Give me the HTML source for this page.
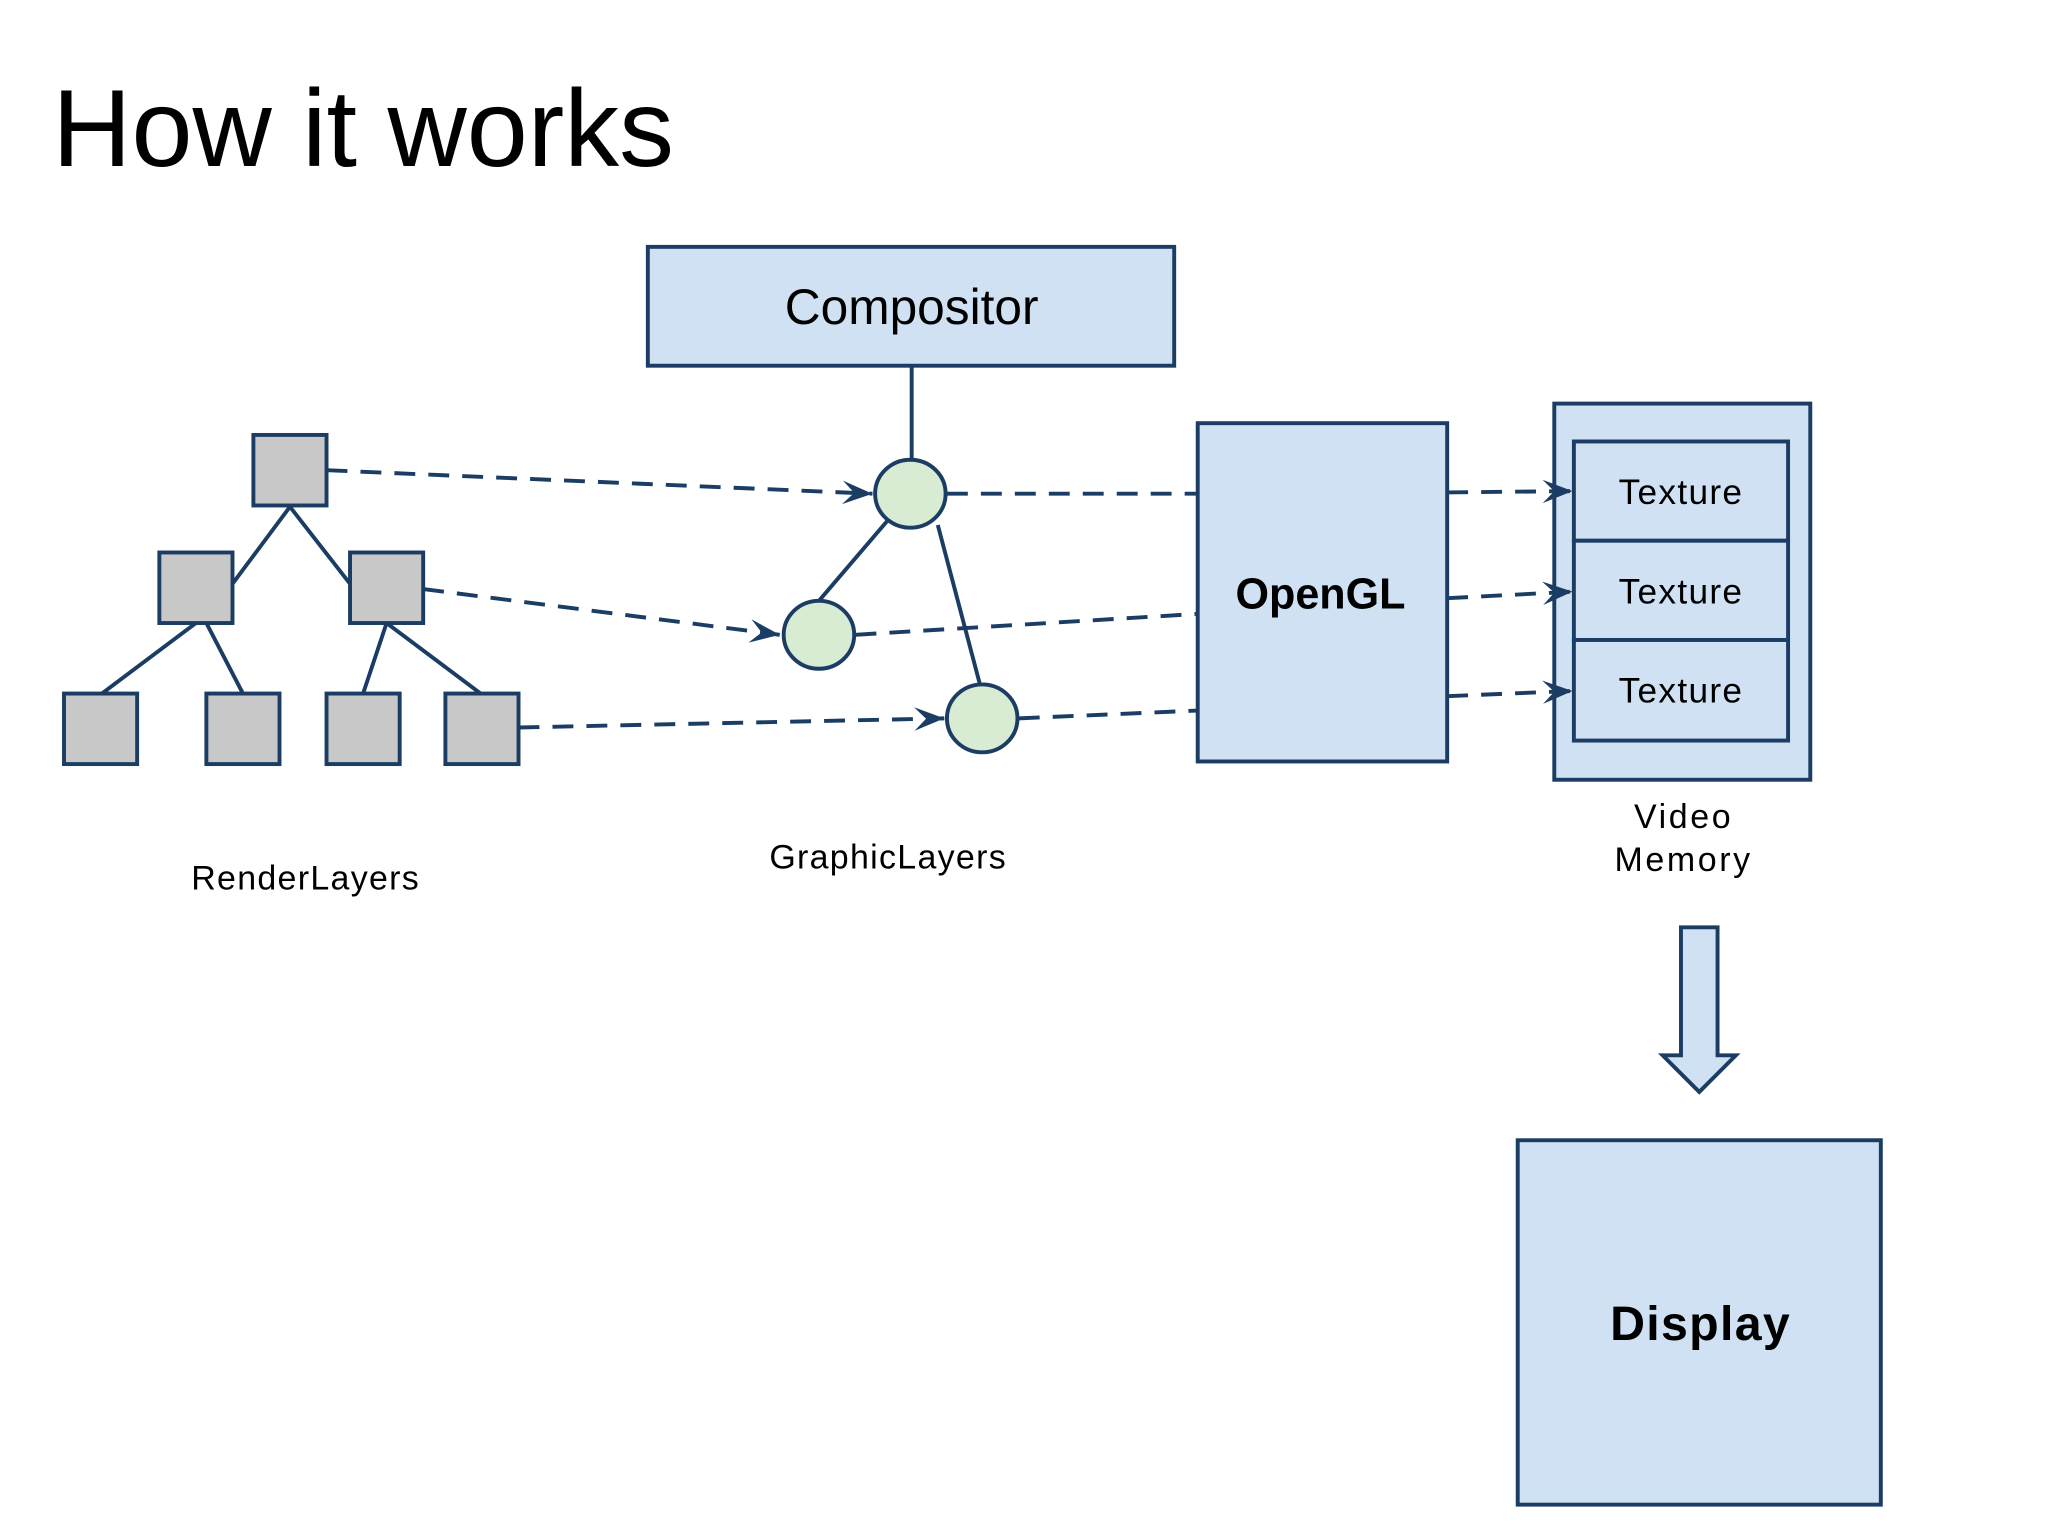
<!DOCTYPE html>
<html><head><meta charset="utf-8"><style>
html,body{margin:0;padding:0;background:#fff;}
svg{display:block;}
text{font-family:"Liberation Sans","DejaVu Sans",sans-serif;}
</style></head><body>
<svg width="2048" height="1536" viewBox="0 0 1568 1176" preserveAspectRatio="none" xmlns="http://www.w3.org/2000/svg">
<defs>
<marker id="ah" viewBox="0 0 24 20" refX="23" refY="10" markerWidth="24" markerHeight="20" markerUnits="userSpaceOnUse" orient="auto">
<path d="M0,1 L23,10 L0,19 L9,10 Z" fill="#1b3d63"/>
</marker>
</defs>
<rect width="1568" height="1176" fill="#fff"/>
<text x="40" y="127" font-size="84" fill="#000">How it works</text>

<g stroke="#1b3d63" stroke-width="3">
<rect x="496" y="189" width="403" height="91" fill="#cfe1f3"/>
<line x1="698" y1="280" x2="698" y2="352"/>
<line x1="222" y1="388" x2="178" y2="447"/>
<line x1="222" y1="388" x2="268" y2="447"/>
<line x1="150" y1="477" x2="78" y2="531"/>
<line x1="158" y1="477" x2="186" y2="531"/>
<line x1="296" y1="477" x2="278" y2="531"/>
<line x1="296" y1="477" x2="368" y2="531"/>
<g fill="#c8c8c8">
<rect x="194" y="333" width="56" height="54"/>
<rect x="122" y="423" width="56" height="54"/>
<rect x="268" y="423" width="56" height="54"/>
<rect x="49" y="531" width="56" height="54"/>
<rect x="158" y="531" width="56" height="54"/>
<rect x="250" y="531" width="56" height="54"/>
<rect x="341" y="531" width="56" height="54"/>
</g>
<line x1="680" y1="398" x2="627" y2="460"/>
<line x1="718" y1="402" x2="750" y2="523"/>
<rect x="917" y="324" width="191" height="259" fill="#cfe1f3"/>
<rect x="1190" y="309" width="196" height="288" fill="#cfe1f3"/>
<rect x="1205" y="338" width="164" height="76" fill="#cfe1f3"/>
<rect x="1205" y="414" width="164" height="76" fill="#cfe1f3"/>
<rect x="1205" y="490" width="164" height="77" fill="#cfe1f3"/>
<g fill="none" stroke-dasharray="16,10">
<line x1="250" y1="360" x2="668" y2="378" marker-end="url(#ah)"/>
<line x1="324" y1="451" x2="597" y2="486" marker-end="url(#ah)"/>
<line x1="397" y1="557" x2="723" y2="550" marker-end="url(#ah)"/>
<line x1="725" y1="378" x2="917" y2="378"/>
<line x1="655" y1="486" x2="917" y2="470"/>
<line x1="780" y1="550" x2="917" y2="544"/>
<line x1="1108" y1="377" x2="1204" y2="376" marker-end="url(#ah)"/>
<line x1="1108" y1="458" x2="1204" y2="453" marker-end="url(#ah)"/>
<line x1="1108" y1="533" x2="1204" y2="529" marker-end="url(#ah)"/>
</g>
<g fill="#d8ebd3">
<ellipse cx="697" cy="378" rx="27" ry="26"/>
<ellipse cx="627" cy="486" rx="27" ry="26"/>
<ellipse cx="752" cy="550" rx="27" ry="26"/>
</g>
<path d="M1287,710 L1315,710 L1315,808 L1329,808 L1301,836 L1273,808 L1287,808 Z" fill="#cfe1f3"/>
<rect x="1162" y="873" width="278" height="279" fill="#cfe1f3"/>
</g>

<g fill="#000" text-anchor="middle">
<text x="698" y="248" font-size="38">Compositor</text>
<text x="1011" y="466" font-size="33" font-weight="bold">OpenGL</text>
<text x="1287" y="386" font-size="27" letter-spacing="1">Texture</text>
<text x="1287" y="462" font-size="27" letter-spacing="1">Texture</text>
<text x="1287" y="538" font-size="27" letter-spacing="1">Texture</text>
<text x="1289" y="634" font-size="26" letter-spacing="2">Video</text>
<text x="1289" y="667" font-size="26" letter-spacing="2">Memory</text>
<text x="234" y="681" font-size="26" letter-spacing="1">RenderLayers</text>
<text x="680" y="665" font-size="26" letter-spacing="1">GraphicLayers</text>
<text x="1302" y="1026" font-size="37" font-weight="bold" letter-spacing="1">Display</text>
</g>
</svg>
</body></html>
